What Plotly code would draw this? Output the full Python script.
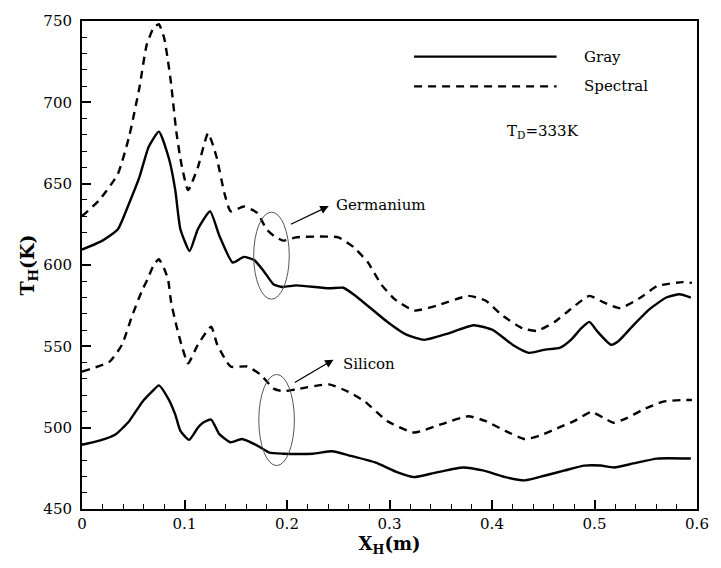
import plotly.graph_objects as go

# ---------------- data ----------------
ge_spec_x = [0, 0.017, 0.035, 0.046, 0.056, 0.063, 0.070, 0.075, 0.080, 0.084, 0.087, 0.092, 0.097, 0.1035,
             0.113, 0.123, 0.131, 0.139, 0.145, 0.158, 0.171, 0.180, 0.187, 0.196, 0.209, 0.23,
             0.25, 0.265, 0.279, 0.292, 0.305, 0.324, 0.346, 0.377, 0.394, 0.41, 0.43, 0.444,
             0.461, 0.477, 0.495, 0.509, 0.525, 0.545, 0.561, 0.586, 0.595]
ge_spec_y = [630, 640, 656, 679, 709, 735, 746, 748, 740, 725, 711, 682, 662, 646,
             660, 681, 667, 644, 633, 636, 632, 622, 618, 615, 617, 617.5,
             617, 611, 601.5, 588, 579, 572, 575, 581, 578, 569, 561, 559.5,
             565, 573, 581, 577, 573.5, 580, 587, 589.5, 589]

ge_gray_x = [0, 0.02, 0.035, 0.046, 0.056, 0.065, 0.075, 0.085, 0.091, 0.096, 0.105, 0.113,
             0.125, 0.134, 0.147, 0.158, 0.168, 0.177, 0.187, 0.196, 0.209, 0.241, 0.255,
             0.267, 0.298, 0.317, 0.334, 0.356, 0.382, 0.401, 0.42, 0.436, 0.452, 0.466,
             0.477, 0.487, 0.495, 0.503, 0.516, 0.523, 0.538, 0.554, 0.57, 0.583, 0.594]
ge_gray_y = [609.5, 615, 622, 638, 654, 672.6, 682, 665, 646, 622, 608.6, 622,
             633, 618, 601.5, 605, 603, 596.5, 588, 586.5, 587.5, 585.7, 586,
             581, 565, 557, 554, 557.7, 563, 560, 551, 546, 548, 549,
             554, 561, 565, 559, 551, 553, 563, 573, 580, 582, 580]

si_spec_x = [0, 0.027, 0.039, 0.049, 0.059, 0.063, 0.070, 0.075, 0.080, 0.084, 0.087, 0.092, 0.097,
             0.1035, 0.113, 0.126, 0.132, 0.145, 0.161, 0.174, 0.187, 0.196, 0.209, 0.241,
             0.26, 0.276, 0.298, 0.324, 0.35, 0.377, 0.394, 0.413, 0.432, 0.446, 0.465, 0.48,
             0.497, 0.509, 0.519, 0.532, 0.547, 0.567, 0.586, 0.595]
si_spec_y = [534.5, 540.6, 551, 569, 585, 590, 600, 603.5, 598, 591, 577, 563, 551,
             539.5, 551, 562, 551, 537.6, 537.6, 532.7, 524, 522.4, 523.6, 526.6,
             522, 516, 504, 497, 502, 507, 504, 498, 493, 495, 500, 504,
             509.6, 506, 503, 506, 511, 516, 517, 517]

si_gray_x = [0, 0.017, 0.033, 0.046, 0.059, 0.068, 0.075, 0.084, 0.091, 0.096, 0.1045, 0.113,
             0.118, 0.126, 0.134, 0.145, 0.156, 0.171, 0.183, 0.196, 0.225, 0.244, 0.26,
             0.286, 0.308, 0.324, 0.346, 0.372, 0.391, 0.413, 0.432, 0.452, 0.471, 0.49,
             0.506, 0.519, 0.538, 0.561, 0.594]
si_gray_y = [489.5, 492, 496, 504, 516, 522, 526, 518, 508, 498, 492.5, 500,
             503, 505, 496, 491, 493, 489, 484.6, 484, 484, 485.5, 483,
             478.6, 472.5, 469.6, 472.5, 475.5, 473.7, 469.6, 467.6, 470.6, 473.7, 476.7,
             476.7, 475.5, 478, 481, 481]

x_ticks = [0, 0.1, 0.2, 0.3, 0.4, 0.5, 0.6]
x_tick_text = ["0", "0.1", "0.2", "0.3", "0.4", "0.5", "0.6"]
y_ticks = [450, 500, 550, 600, 650, 700, 750]
y_tick_text = ["450", "500", "550", "600", "650", "700", "750"]

legend_names = ["Gray", "Spectral"]
x_title = "<b>X<sub>H</sub>(m)</b>"
y_title = "<b>T<sub>H</sub>(K)</b>"

FONT = "DejaVu Serif"
DASH = "8px,6px"
LW = 2.4
FS = 15

fig = go.Figure()
for xs, ys, dash in [(ge_gray_x, ge_gray_y, "solid"), (ge_spec_x, ge_spec_y, DASH),
                     (si_gray_x, si_gray_y, "solid"), (si_spec_x, si_spec_y, DASH)]:
    fig.add_trace(go.Scatter(x=xs, y=ys, mode="lines", showlegend=False,
                             line=dict(color="black", width=LW, dash=dash,
                                       shape="spline", smoothing=0.5)))

# legend drawn manually (long line samples)
fig.add_shape(type="line", xref="x", yref="y", x0=0.324, x1=0.463, y0=728.1, y1=728.1,
              line=dict(color="black", width=2.2))
fig.add_shape(type="line", xref="x", yref="y", x0=0.324, x1=0.463, y0=709.8, y1=709.8,
              line=dict(color="black", width=2.2, dash=DASH))
fig.add_annotation(x=0.485, y=728.1, text=legend_names[0], showarrow=False, xanchor="left",
                   xshift=3, font=dict(family=FONT, size=FS, color="black"))
fig.add_annotation(x=0.485, y=709.8, text=legend_names[1], showarrow=False, xanchor="left",
                   xshift=3, font=dict(family=FONT, size=FS, color="black"))
fig.add_annotation(x=0.4123, y=681.8, text="T<sub>D</sub>=333K", showarrow=False,
                   xanchor="left", font=dict(family=FONT, size=FS, color="black"))

# ellipses
fig.add_shape(type="circle", xref="x", yref="y", x0=0.1675, x1=0.2022, y0=579, y1=632.5,
              line=dict(color="#555555", width=1))
fig.add_shape(type="circle", xref="x", yref="y", x0=0.1725, x1=0.2072, y0=476.7, y1=532.7,
              line=dict(color="#555555", width=1))

# arrows
fig.add_annotation(x=0.2407, y=636.2, ax=0.2023, ay=624.6, axref="x", ayref="y",
                   showarrow=True, arrowhead=2, arrowsize=1.3, arrowwidth=1.3, arrowcolor="black",
                   text="")
fig.add_annotation(x=0.2454, y=541.8, ax=0.2061, ay=527.2, axref="x", ayref="y",
                   showarrow=True, arrowhead=2, arrowsize=1.3, arrowwidth=1.3, arrowcolor="black",
                   text="")
fig.add_annotation(x=0.2454, y=636.8, text="Germanium", showarrow=False, xanchor="left",
                   font=dict(family=FONT, size=FS, color="black"))
fig.add_annotation(x=0.2522, y=539.4, text="Silicon", showarrow=False, xanchor="left",
                   font=dict(family=FONT, size=FS, color="black"))

fig.update_layout(
    width=721, height=568,
    margin=dict(l=82, r=13, t=16, b=59),
    paper_bgcolor="white", plot_bgcolor="white",
    font=dict(family=FONT, size=FS, color="black"),
    xaxis=dict(range=[0, 0.6], tickvals=x_ticks, ticktext=x_tick_text,
               ticks="inside", ticklen=9, tickwidth=1.5, tickcolor="black",
               minor=dict(ticks="inside", dtick=0.02, ticklen=5, tickwidth=1.2, tickcolor="black"),
               showline=True, linewidth=2, linecolor="black", mirror=True,
               showgrid=False, zeroline=False,
               title=dict(text=x_title, font=dict(family=FONT, size=18, color="#000000"), standoff=0),
               tickfont=dict(family=FONT, size=FS, color="#000000")),
    yaxis=dict(range=[450, 750], tickvals=y_ticks, ticktext=y_tick_text,
               ticks="inside", ticklen=9, tickwidth=1.5, tickcolor="black",
               ticklabelstandoff=5,
               minor=dict(ticks="inside", dtick=10, ticklen=5, tickwidth=1.2, tickcolor="black"),
               showline=True, linewidth=2, linecolor="black", mirror=True,
               showgrid=False, zeroline=False,
               title=dict(text=y_title, font=dict(family=FONT, size=19, color="#000000"), standoff=4),
               tickfont=dict(family=FONT, size=FS, color="#000000")),
)

fig.write_html("out.html")
